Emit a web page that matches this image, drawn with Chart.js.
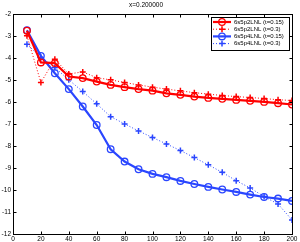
<!DOCTYPE html>
<html><head><meta charset="utf-8">
<script src="https://cdn.jsdelivr.net/npm/chart.js@4/dist/chart.umd.min.js"></script>
<style>html,body{margin:0;padding:0;background:#fff}canvas{display:block}</style>
</head><body>
<canvas id="c" width="300" height="242"></canvas>
<script>
const xValues = [10,20,30,40,50,60,70,80,90,100,110,120,130,140,150,160,170,180,190,200];
const red015 = [-2.77,-4.21,-4.24,-4.85,-4.92,-5.08,-5.23,-5.33,-5.42,-5.49,-5.61,-5.68,-5.76,-5.82,-5.86,-5.91,-5.95,-6.00,-6.06,-6.12];
const red03  = [-3.00,-5.12,-4.06,-4.73,-4.64,-4.90,-5.00,-5.12,-5.23,-5.33,-5.42,-5.50,-5.58,-5.65,-5.71,-5.76,-5.80,-5.85,-5.90,-5.94];
const blue015 = [-2.75,-3.91,-4.70,-5.42,-6.21,-7.05,-8.15,-8.71,-9.06,-9.27,-9.42,-9.59,-9.73,-9.86,-9.98,-10.09,-10.21,-10.32,-10.39,-10.50];
const blue03  = [-3.38,-3.98,-4.44,-5.00,-5.53,-6.09,-6.67,-7.00,-7.32,-7.62,-7.91,-8.21,-8.53,-8.86,-9.20,-9.58,-9.91,-10.30,-10.64,-11.36];
const seriesLabels = ["6s5p2LNL (t=0.15)","6s5p2LNL (t=0.3)","6s5p4LNL (t=0.15)","6s5p4LNL (t=0.3)"];
const titleText = "x=0.200000";
const xTicks = [0,20,40,60,80,100,120,140,160,180,200];
const yTicks = [-12,-11,-10,-9,-8,-7,-6,-5,-4,-3,-2];

const RED = "#ff0000", BLUE = "#2a46ff";
const FONT = "'Liberation Sans', Arial, sans-serif";
function pts(v){ return xValues.map((x,i)=>({x:x,y:v[i]})); }

const datasets = [
  {label:seriesLabels[0], data:pts(red015), borderColor:RED, backgroundColor:'rgba(0,0,0,0)', borderWidth:2.2, pointStyle:'circle', pointRadius:3.3, pointBorderWidth:1.3, pointBorderColor:RED, pointBackgroundColor:'rgba(0,0,0,0)'},
  {label:seriesLabels[1], data:pts(red03), borderColor:RED, backgroundColor:RED, borderWidth:1, borderDash:[1,2], pointStyle:'cross', pointRadius:3, pointBorderWidth:1.5, pointBorderColor:RED, pointBackgroundColor:RED},
  {label:seriesLabels[2], data:pts(blue015), borderColor:BLUE, backgroundColor:'rgba(0,0,0,0)', borderWidth:2.2, pointStyle:'circle', pointRadius:3.3, pointBorderWidth:1.3, pointBorderColor:BLUE, pointBackgroundColor:'rgba(0,0,0,0)'},
  {label:seriesLabels[3], data:pts(blue03), borderColor:BLUE, backgroundColor:BLUE, borderWidth:1, borderDash:[1,2], pointStyle:'cross', pointRadius:3, pointBorderWidth:1.5, pointBorderColor:BLUE, pointBackgroundColor:BLUE}
];

const framePlugin = {
  id:'frame',
  afterDraw(chart){
    const ctx = chart.ctx, a = chart.chartArea;
    const xs = chart.scales.x, ys = chart.scales.y;
    ctx.save();
    ctx.strokeStyle = '#000'; ctx.lineWidth = 1; ctx.setLineDash([]);
    const L = Math.round(a.left)+0.5, R = Math.round(a.right)+0.5, T = Math.round(a.top)+0.5, B = Math.round(a.bottom)+0.5;
    ctx.strokeRect(L, T, R-L, B-T);
    ctx.beginPath();
    xTicks.forEach(v=>{ const p = Math.round(xs.getPixelForValue(v))+0.5; ctx.moveTo(p,B); ctx.lineTo(p,B-3); ctx.moveTo(p,T); ctx.lineTo(p,T+3); });
    yTicks.forEach(v=>{ const p = Math.round(ys.getPixelForValue(v))+0.5; ctx.moveTo(L,p); ctx.lineTo(L+3,p); ctx.moveTo(R,p); ctx.lineTo(R-3,p); });
    ctx.stroke();
    // legend
    const bx = 211, by = 17, bw = 78, bh = 33;
    ctx.fillStyle = '#fff'; ctx.fillRect(bx, by, bw, bh);
    ctx.strokeStyle = '#000'; ctx.lineWidth = 1; ctx.strokeRect(bx+0.5, by+0.5, bw, bh);
    ctx.font = "6px " + FONT; ctx.textBaseline = 'middle'; ctx.textAlign = 'left';
    chart.data.datasets.forEach((ds,i)=>{
      const y = 22 + i*7.2;
      ctx.strokeStyle = ds.borderColor; ctx.lineWidth = ds.borderWidth;
      ctx.setLineDash(ds.borderDash || []);
      ctx.beginPath(); ctx.moveTo(213, y); ctx.lineTo(231, y); ctx.stroke();
      ctx.setLineDash([]);
      ctx.strokeStyle = ds.pointBorderColor;
      ctx.fillStyle = ds.pointBackgroundColor;
      ctx.lineWidth = ds.pointBorderWidth;
      Chart.helpers.drawPoint(ctx, {pointStyle: ds.pointStyle, radius: ds.pointRadius, borderWidth: ds.pointBorderWidth}, 222, y);
      ctx.fillStyle = '#000';
      ctx.fillText(ds.label, 234, y);
    });
    ctx.restore();
  }
};

new Chart(document.getElementById('c'), {
  type:'line',
  data:{datasets:datasets},
  options:{
    responsive:false, animation:false, devicePixelRatio:1,
    layout:{padding:{left:0,right:8,top:0,bottom:0}},
    plugins:{
      legend:{display:false}, tooltip:{enabled:false},
      title:{display:true, text:titleText, color:'#000', font:{family:FONT, size:6.5, weight:'normal'}, padding:{top:1,bottom:5}}
    },
    scales:{
      x:{type:'linear', min:0, max:200, afterFit(s){s.height = 8;}, afterBuildTicks(s){ s.ticks = xTicks.map(v=>({value:v})); },
         grid:{display:false, drawTicks:false}, border:{display:false},
         ticks:{color:'#000', font:{family:FONT, size:6.5}, padding:1, maxRotation:0, autoSkip:false}},
      y:{type:'linear', min:-12, max:-2, afterFit(s){s.width = 13;}, afterBuildTicks(s){ s.ticks = yTicks.map(v=>({value:v})); },
         grid:{display:false, drawTicks:false}, border:{display:false},
         ticks:{color:'#000', font:{family:FONT, size:6.5}, padding:2, autoSkip:false}}
    }
  },
  plugins:[framePlugin]
});
</script>
</body></html>
